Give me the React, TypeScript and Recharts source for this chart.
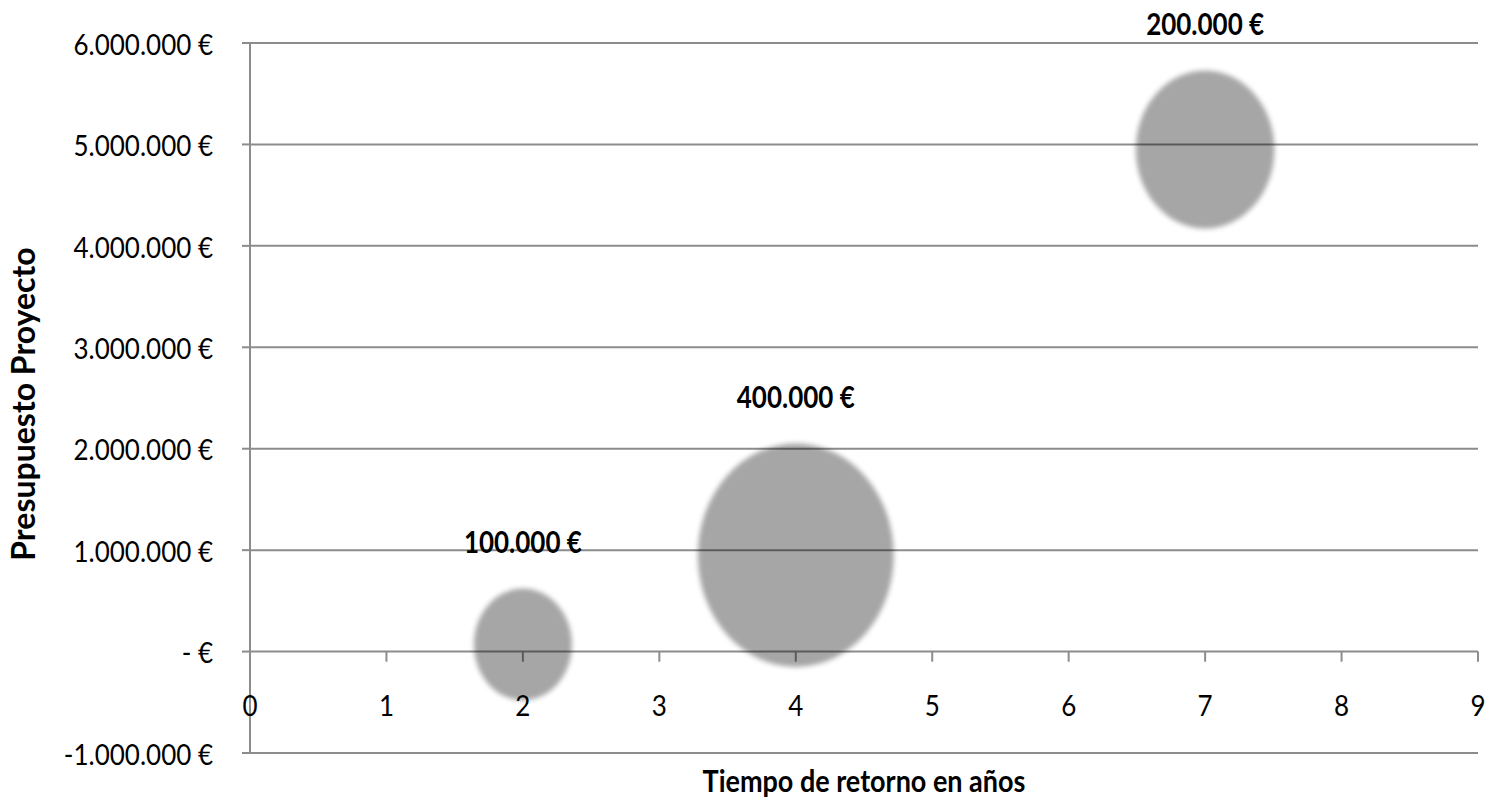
import React from "react"
import {
  CartesianGrid,
  LabelList,
  ReferenceLine,
  Scatter,
  ScatterChart,
  XAxis,
  YAxis,
  ZAxis,
} from "recharts"

// años de retorno, presupuesto del proyecto, y beneficio (tamaño de la burbuja)
const years = [2, 4, 7]
const budgets = [70000, 950000, 4950000]
const returns = [100000, 400000, 200000]

const xTicks = [0, 1, 2, 3, 4, 5, 6, 7, 8, 9]
const yTicks = [-1000000, 0, 1000000, 2000000, 3000000, 4000000, 5000000, 6000000]

const data = years.map((x, i) => ({ x, y: budgets[i], z: returns[i] }))

const FONT = "Lato, 'Open Sans', sans-serif"
const GRID = "#8c8c8c"
const STRETCH = 1.14 // the picture is stretched vertically

const euro = (v: number) => {
  if (v === 0) return "- €"
  const s = Math.abs(v).toString().replace(/\B(?=(\d{3})+(?!\d))/g, ".")
  return (v < 0 ? "-" : "") + s + " €"
}

// text drawn with the same vertical stretch as the original
const Txt = ({ x, y, anchor = "middle", size, bold, rotate, children }: any) => (
  <g transform={`translate(${x},${y}) ${rotate ? "rotate(-90)" : ""} scale(1,${rotate ? 1 : STRETCH})`}>
    <text
      x={0}
      y={0}
      textAnchor={anchor}
      dominantBaseline="central"
      fontFamily={FONT}
      fontWeight={bold ? "bold" : "normal"}
      fontSize={size}
      fill="#000"
    >
      {children}
    </text>
  </g>
)

const Bubble = (props: any) => {
  const { cx, cy, width } = props
  const r = width / 2
  return (
    <ellipse
      cx={cx}
      cy={cy}
      rx={r}
      ry={r * STRETCH}
      fill="#000"
      fillOpacity={0.35}
      filter="url(#soft)"
    />
  )
}

const BubbleLabel = (props: any) => {
  const { x, y, width, value } = props
  const r = width / 2
  return (
    <Txt x={x + r} y={y + r - r * STRETCH - 47} size={26} bold>
      {euro(value)}
    </Txt>
  )
}

const XTick = (props: any) => {
  const { x, y, payload } = props
  return (
    <Txt x={x} y={y - 49} size={26}>
      {payload.value}
    </Txt>
  )
}

const YTick = (props: any) => {
  const { x, y, payload } = props
  return (
    <Txt x={x} y={y} size={26} anchor="end">
      {euro(payload.value)}
    </Txt>
  )
}

export default function App() {
  return (
    <div style={{ position: "absolute", left: 0, top: 0, background: "#fff" }}>
      <ScatterChart
        width={1489}
        height={799}
        margin={{ top: 43, right: 11, bottom: 0, left: 0 }}
      >
        <defs>
          <filter id="soft" x="-20%" y="-20%" width="140%" height="140%">
            <feGaussianBlur stdDeviation="2.5" />
          </filter>
        </defs>
        <CartesianGrid vertical={false} stroke={GRID} strokeWidth={2} />
        <XAxis
          type="number"
          dataKey="x"
          domain={[0, 9]}
          ticks={xTicks}
          interval={0}
          height={46}
          axisLine={false}
          tickLine={false}
          tickSize={0}
          tickMargin={0}
          tick={<XTick />}
        />
        <YAxis
          type="number"
          dataKey="y"
          domain={[-1000000, 6000000]}
          ticks={yTicks}
          interval={0}
          width={250}
          axisLine={{ stroke: GRID, strokeWidth: 2 }}
          tickLine={{ stroke: GRID, strokeWidth: 2 }}
          tickSize={8}
          tickMargin={29}
          tick={<YTick />}
        />
        <ZAxis type="number" dataKey="z" domain={[0, 400000]} range={[0, 30172]} />
        {xTicks.slice(1).map((t) => (
          <ReferenceLine
            key={t}
            segment={[
              { x: t, y: 0 },
              { x: t, y: -100000 },
            ]}
            stroke={GRID}
            strokeWidth={2}
          />
        ))}
        <Scatter data={data} shape={<Bubble />} isAnimationActive={false}>
          <LabelList dataKey="z" content={<BubbleLabel />} />
        </Scatter>
        <Txt x={864} y={780} size={27} bold>
          Tiempo de retorno en años
        </Txt>
        <Txt x={22} y={404} size={32} bold rotate>
          Presupuesto Proyecto
        </Txt>
      </ScatterChart>
    </div>
  )
}
